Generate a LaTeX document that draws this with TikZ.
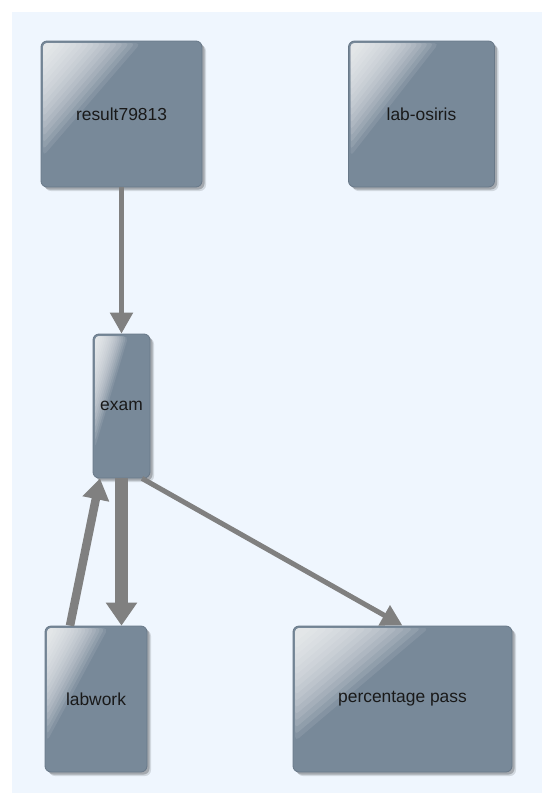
\documentclass[tikz,border=0pt]{standalone}
\usepackage{fontspec}
\setmainfont{Liberation Sans}
\usetikzlibrary{arrows.meta,shadows,calc}
\definecolor{bgblue}{RGB}{239,246,254}
\definecolor{boxfill}{RGB}{120,137,153}
\definecolor{boxline}{RGB}{104,120,136}
\definecolor{edgegray}{RGB}{128,128,128}
\definecolor{txt}{RGB}{25,25,25}
\tikzset{
  box/.style={draw=boxline, line width=0.8pt, fill=boxfill, rounded corners=6pt,
    inner sep=0pt, text=txt, font=\fontsize{17.4pt}{20pt}\selectfont,
    drop shadow={shadow xshift=4pt, shadow yshift=-4pt, opacity=0.12, fill=black},
    drop shadow={shadow xshift=2.5pt, shadow yshift=-2.5pt, opacity=0.22, fill=black},
    path picture={
      \coordinate (gA) at ($(path picture bounding box.north west)+(2pt,-2pt)$);
      \coordinate (gB) at ($(path picture bounding box.north west)!0.62!(path picture bounding box.north east)+(0,-2pt)$);
      \coordinate (gC) at ($(path picture bounding box.north west)!0.79!(path picture bounding box.south west)+(2pt,0)$);
      \fill[white, fill opacity=0.09, rounded corners=5pt] (gA) -- (gB) -- (gC) -- cycle;
      \foreach \i in {1,...,15} {
        \pgfmathsetmacro{\s}{1-\i*0.058}
        \fill[white, fill opacity=0.1, rounded corners=4pt]
          (gA) -- ($(gA)!\s!(gB)$) -- ($(gA)!\s!(gC)$) -- cycle;
      }
    }},
  conn/.style={draw=edgegray, line cap=butt},
  edgesmall/.style={conn, line width=5pt, -{Triangle[length=21pt, width=22pt]}},
  edgemid/.style={conn, line width=8.5pt, -{Triangle[length=21pt, width=26pt]}},
  edgebig/.style={conn, line width=13pt, -{Triangle[length=23pt, width=30pt]}}
}
\begin{document}
\begin{tikzpicture}[x=1pt,y=-1pt]
\useasboundingbox (0,0) rectangle (542,793);
\fill[bgblue] (12,12) rectangle (542,793);
\node[box, minimum width=161pt, minimum height=146pt] (r) at (121.5,114) {result79813};
\node[box, minimum width=146pt, minimum height=146pt] (lo) at (421.5,114) {lab-osiris};
\node[box, minimum width=57pt, minimum height=144pt] (ex) at (121.5,406) {exam};
\node[box, minimum width=102pt, minimum height=146pt] (lw) at (96,699) {labwork};
\node[box, minimum width=219pt, minimum height=146pt] (pp) at (402.5,699) {percentage pass};
\draw[edgesmall] (r.south) -- (ex.north);
\draw[edgebig] (ex.south) -- ([xshift=25.5pt]lw.north);
\draw[edgemid] ([xshift=-26pt]lw.north) -- ([xshift=-21.5pt]ex.south);
\draw[edgesmall] ([xshift=20.5pt]ex.south) -- (pp.north);
\end{tikzpicture}
\end{document}
